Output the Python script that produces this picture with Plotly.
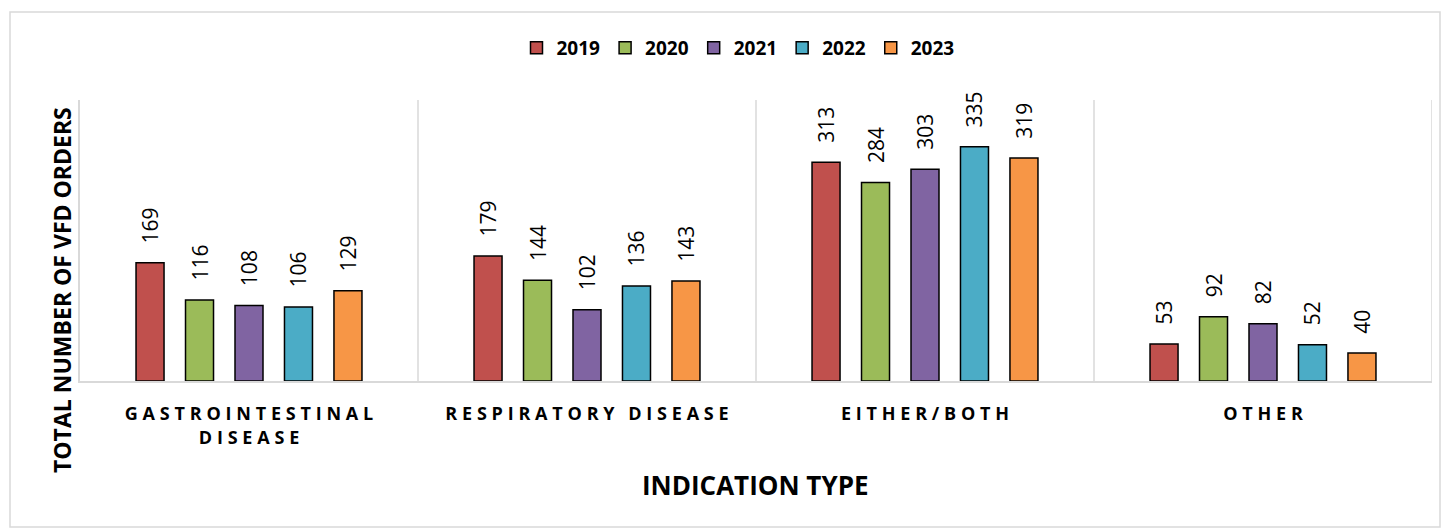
import plotly.graph_objects as go

categories = ['Gastrointestinal Disease', 'Respiratory Disease', 'Either/Both', 'Other']
tick_labels = ['GASTROINTESTINAL<br>DISEASE', 'RESPIRATORY DISEASE', 'EITHER/BOTH', 'OTHER']
years = ['2019', '2020', '2021', '2022', '2023']
colors = ['#C0504D', '#9BBB59', '#8064A2', '#4BACC6', '#F79646']

orders_2019 = [169, 179, 313, 53]
orders_2020 = [116, 144, 284, 92]
orders_2021 = [108, 102, 303, 82]
orders_2022 = [106, 136, 335, 52]
orders_2023 = [129, 143, 319, 40]

W, H = 1450, 529
L, R, T, B = 80, 18, 100, 148


def spaced(label):
    # fake letter spacing with thin spaces
    lines = []
    for line in label.split('<br>'):
        words = ['\u2009\u200a'.join(ch for ch in w) for w in line.split(' ')]
        lines.append('\u00a0\u2009\u2009\u2009'.join(words))
    return '<br>'.join(lines)


def px_x(p):
    return (p - L) / (W - L - R)


def px_y(p):
    return (H - B - p) / (H - T - B)


fig = go.Figure()
series = [orders_2019, orders_2020, orders_2021, orders_2022, orders_2023]
for year, vals, col in zip(years, series, colors):
    fig.add_trace(go.Bar(
        x=list(range(len(categories))),
        y=vals,
        name=year,
        marker=dict(color=col, line=dict(color='black', width=1.5)),
        text=vals,
        texttemplate='\u00a0\u00a0\u00a0%{text}',
        textposition='outside',
        textangle=-90,
        constraintext='none',
        cliponaxis=False,
        textfont=dict(family='Open Sans', size=21, color='black'),
    ))

fig.update_layout(barmode='group', bargap=0.268, bargroupgap=0.434)
fig.update_layout(width=W, height=H, margin=dict(l=L, r=R, t=T, b=B),
                  plot_bgcolor='white', paper_bgcolor='white')
fig.update_layout(font=dict(family='Open Sans', color='black'))
fig.update_layout(legend=dict(orientation='h', x=px_x(738), y=px_y(48),
                              xanchor='center', yanchor='middle',
                              font=dict(size=19, family='Open Sans', weight='bold'),
                              itemwidth=30, traceorder='normal'))

fig.update_xaxes(range=[-0.5, 3.5], tickvals=list(range(len(categories))),
                 ticktext=[spaced(t) for t in tick_labels],
                 tickfont=dict(size=18, family='Open Sans', weight='bold'),
                 ticks='', ticklabelstandoff=16,
                 showline=True, linecolor='#D9D9D9', linewidth=1.5, showgrid=False)
fig.update_yaxes(range=[0, 402], showticklabels=False, showgrid=False,
                 zeroline=False, showline=True, linecolor='#D9D9D9', linewidth=1.5)

# category separators and right edge
for xs in [0.5, 1.5, 2.5, 3.5]:
    fig.add_shape(type='line', xref='x', yref='paper', x0=xs, x1=xs, y0=0, y1=1,
                  line=dict(color='#D9D9D9', width=1.5), layer='below')

# outer chart border
fig.add_shape(type='rect', xref='paper', yref='paper',
              x0=px_x(10), x1=px_x(1440), y0=px_y(527), y1=px_y(12),
              line=dict(color='#D9D9D9', width=1.5))

fig.add_annotation(text='TOTAL NUMBER OF VFD ORDERS', xref='paper', yref='paper',
                   x=px_x(62), y=px_y(290), xanchor='center', yanchor='middle',
                   textangle=-90, showarrow=False,
                   font=dict(size=23, family='Open Sans', weight='bold'))
fig.add_annotation(text='INDICATION TYPE', xref='paper', yref='paper',
                   x=px_x(755), y=px_y(485), xanchor='center', yanchor='middle',
                   showarrow=False,
                   font=dict(size=26, family='Open Sans', weight='bold'))

fig.write_html('out.html', config={'displayModeBar': False},
               post_script="document.body.style.margin='0';")
